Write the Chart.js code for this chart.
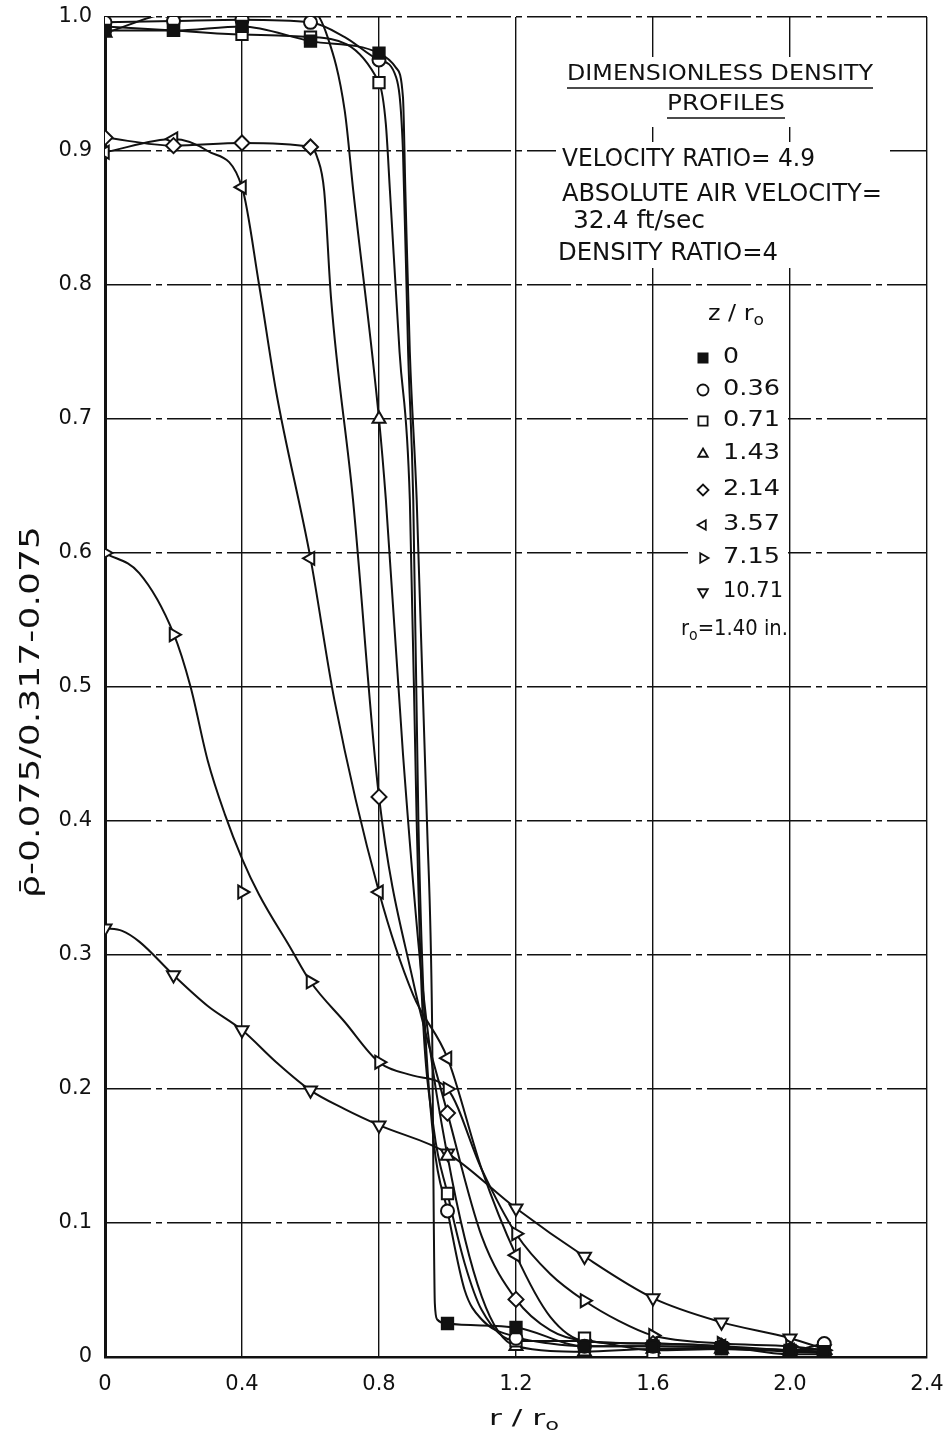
<!DOCTYPE html>
<html><head><meta charset="utf-8">
<script src="https://cdn.jsdelivr.net/npm/chart.js@4/dist/chart.umd.min.js"></script>
<style>html,body{margin:0;padding:0;background:#fff}canvas{display:block}</style>
</head><body>
<canvas id="c" width="951" height="1434"></canvas>
<script>
// ---------- DATA ----------
const xTicks = [0, 0.4, 0.8, 1.2, 1.6, 2.0, 2.4];
const xTickLabels = ['0', '0.4', '0.8', '1.2', '1.6', '2.0', '2.4'];
const yTicks = [0, 0.1, 0.2, 0.3, 0.4, 0.5, 0.6, 0.7, 0.8, 0.9, 1.0];
const yTickLabels = ['0', '0.1', '0.2', '0.3', '0.4', '0.5', '0.6', '0.7', '0.8', '0.9', '1.0'];
const seriesNames = ['0', '0.36', '0.71', '1.43', '2.14', '3.57', '7.15', '10.71'];

// measured points (markers)
const markerR = [0, 0.2, 0.4, 0.6, 0.8, 1.0, 1.2, 1.4, 1.6, 1.8, 2.0, 2.1];
const m0 = [0.990, 0.990, 0.993, 0.982, 0.973, 0.025, 0.022, 0.008, 0.008, 0.007, 0.005, 0.004];
const m1 = [0.996, 0.997, 0.998, 0.996, 0.968, 0.109, 0.014, 0.008, 0.008, 0.007, 0.005, 0.010];
const m2 = [0.993, 0.990, 0.987, 0.985, 0.951, 0.122, 0.012, 0.014, 0.003, 0.006, 0.004, 0.003];
const m3 = [0.988, 1.003, 1.004, 1.006, 0.700, 0.150, 0.008, 0.004, 0.006, 0.006, 0.005, 0.006];
const m4 = [0.910, 0.904, 0.906, 0.903, 0.418, 0.182, 0.043, 0.012, 0.010, 0.008, 0.002, 0.002];
const m5 = [0.899, 0.909, 0.873, 0.596, 0.347, 0.223, 0.076, 0.012, 0.010, 0.008, 0.005, 0.004];
const m6 = [0.600, 0.539, 0.347, 0.280, 0.220, 0.200, 0.092, 0.042, 0.016, 0.010, 0.008, 0.005];
const m7 = [0.320, 0.285, 0.244, 0.199, 0.173, 0.152, 0.111, 0.075, 0.044, 0.026, 0.014, 0.006];

// faired curves
const c0r = [0, 0.2, 0.4, 0.6, 0.8, 0.85, 0.87, 0.877, 0.89, 0.91, 0.94, 0.955, 0.96, 0.963, 0.97, 1.0, 1.2, 1.4, 1.6, 1.8, 2.0, 2.1];
const c0v = [0.990, 0.990, 0.993, 0.982, 0.973, 0.962, 0.940, 0.870, 0.750, 0.640, 0.400, 0.250, 0.100, 0.040, 0.028, 0.025, 0.022, 0.008, 0.008, 0.007, 0.005, 0.004];
const c1r = [0, 0.2, 0.4, 0.6, 0.7, 0.8, 0.85, 0.87, 0.885, 0.9, 0.915, 0.93, 0.96, 1.0, 1.05, 1.1, 1.2, 1.3, 1.4, 1.6, 1.8, 2.0, 2.1];
const c1v = [0.996, 0.997, 0.998, 0.996, 0.985, 0.968, 0.955, 0.900, 0.750, 0.640, 0.400, 0.270, 0.160, 0.109, 0.050, 0.028, 0.015, 0.010, 0.008, 0.008, 0.007, 0.005, 0.010];
const c2r = [0, 0.2, 0.4, 0.6, 0.8, 0.82, 0.832, 0.86, 0.89, 0.91, 0.925, 0.96, 1.0, 1.05, 1.1, 1.2, 1.4, 1.6, 1.8, 2.0, 2.1];
const c2v = [0.993, 0.990, 0.987, 0.985, 0.951, 0.920, 0.870, 0.750, 0.640, 0.400, 0.270, 0.170, 0.122, 0.070, 0.035, 0.012, 0.012, 0.005, 0.006, 0.004, 0.003];
const c3r = [0, 0.2, 0.4, 0.6, 0.65, 0.7, 0.725, 0.8, 0.82, 0.87, 0.93, 1.0, 1.1, 1.2, 1.4, 1.6, 1.8, 2.0, 2.1];
const c3v = [0.988, 1.003, 1.004, 1.006, 0.985, 0.930, 0.870, 0.700, 0.640, 0.450, 0.270, 0.150, 0.045, 0.008, 0.004, 0.006, 0.006, 0.005, 0.006];
const c4r = [0, 0.2, 0.4, 0.6, 0.62, 0.64, 0.66, 0.724, 0.8, 0.9, 1.0, 1.1, 1.2, 1.3, 1.4, 1.6, 1.8, 2.0, 2.1];
const c4v = [0.910, 0.904, 0.906, 0.903, 0.895, 0.870, 0.790, 0.640, 0.418, 0.280, 0.182, 0.090, 0.043, 0.020, 0.012, 0.010, 0.008, 0.002, 0.002];
const c5r = [0, 0.2, 0.3, 0.4, 0.45, 0.5, 0.6, 0.67, 0.8, 0.9, 1.0, 1.1, 1.2, 1.3, 1.4, 1.6, 1.8, 2.0, 2.1];
const c5v = [0.899, 0.909, 0.900, 0.873, 0.800, 0.720, 0.596, 0.490, 0.347, 0.270, 0.223, 0.140, 0.076, 0.030, 0.012, 0.010, 0.008, 0.005, 0.004];
const c6r = [0, 0.1, 0.2, 0.25, 0.3, 0.35, 0.4, 0.45, 0.54, 0.6, 0.7, 0.8, 0.9, 1.0, 1.1, 1.2, 1.3, 1.4, 1.5, 1.6, 1.8, 2.0, 2.1];
const c6v = [0.600, 0.585, 0.540, 0.500, 0.445, 0.405, 0.372, 0.345, 0.306, 0.280, 0.250, 0.220, 0.210, 0.200, 0.140, 0.092, 0.062, 0.042, 0.027, 0.016, 0.010, 0.008, 0.005];
const c7r = [0, 0.05, 0.1, 0.2, 0.3, 0.4, 0.5, 0.6, 0.7, 0.8, 1.0, 1.2, 1.4, 1.6, 1.8, 2.0, 2.1];
const c7v = [0.320, 0.318, 0.310, 0.285, 0.262, 0.244, 0.220, 0.199, 0.185, 0.173, 0.152, 0.111, 0.075, 0.044, 0.026, 0.014, 0.006];

// ---------- STYLE ----------
const markerVals = [m0, m1, m2, m3, m4, m5, m6, m7];
const curveR = [c0r, c1r, c2r, c3r, c4r, c5r, c6r, c7r];
const curveV = [c0v, c1v, c2v, c3v, c4v, c5v, c6v, c7v];
const mStyle = [
  {ps: 'rect', rot: 0, r: 8, fill: '#111'},
  {ps: 'circle', rot: 0, r: 6.5, fill: '#fff'},
  {ps: 'rect', rot: 0, r: 8, fill: '#fff'},
  {ps: 'triangle', rot: 0, r: 7.5, fill: '#fff'},
  {ps: 'rectRot', rot: 0, r: 7.5, fill: '#fff'},
  {ps: 'triangle', rot: 270, r: 7.5, fill: '#fff'},
  {ps: 'triangle', rot: 90, r: 7.5, fill: '#fff'},
  {ps: 'triangle', rot: 180, r: 7.5, fill: '#fff'}
];
const INK = '#111';
const FONT = '"DejaVu Sans", sans-serif';

const datasets = [];
markerVals.forEach((vals, i) => {
  datasets.push({
    label: seriesNames[i],
    data: markerR.map((r, k) => ({x: r, y: vals[k]})),
    showLine: false,
    pointStyle: mStyle[i].ps,
    pointRotation: mStyle[i].rot,
    pointRadius: mStyle[i].r,
    pointBackgroundColor: mStyle[i].fill,
    pointBorderColor: INK,
    pointBorderWidth: 2,
    order: 0
  });
});
curveR.forEach((rs, i) => {
  datasets.push({
    label: seriesNames[i] + ' curve',
    data: rs.map((r, k) => ({x: r, y: curveV[i][k]})),
    showLine: true,
    borderColor: INK,
    borderWidth: 2,
    pointRadius: 0,
    cubicInterpolationMode: 'monotone',
    fill: false,
    order: 1
  });
});

function drawMarker(ctx, st, x, y, r) {
  ctx.save();
  ctx.fillStyle = st.fill; ctx.strokeStyle = INK; ctx.lineWidth = 1.8;
  if (Chart.helpers && Chart.helpers.drawPoint) {
    Chart.helpers.drawPoint(ctx, {pointStyle: st.ps, rotation: st.rot, radius: r, borderWidth: 1.8}, x, y);
  } else {
    ctx.beginPath(); ctx.arc(x, y, r, 0, Math.PI * 2); ctx.fill(); ctx.stroke();
  }
  ctx.restore();
}

// parts: array of [text, isSub]
function drawText(ctx, parts, x, y, h, targetW, align) {
  ctx.save();
  ctx.fillStyle = INK;
  ctx.textBaseline = 'middle';
  ctx.textAlign = 'left';
  let w = 0;
  parts.forEach(p => {
    ctx.font = (p[1] ? h * 0.72 : h) + 'px ' + FONT;
    w += ctx.measureText(p[0]).width;
  });
  const sx = targetW ? targetW / w : 1;
  const tw = w * sx;
  let x0 = align === 'center' ? x - tw / 2 : (align === 'right' ? x - tw : x);
  ctx.translate(x0, y);
  ctx.scale(sx, 1);
  let cx = 0;
  parts.forEach(p => {
    ctx.font = (p[1] ? h * 0.72 : h) + 'px ' + FONT;
    ctx.fillText(p[0], cx, p[1] ? h * 0.3 : 0);
    cx += ctx.measureText(p[0]).width;
  });
  ctx.restore();
}

const annot = {
  id: 'annot',
  beforeDatasetsDraw(chart) {
    const ctx = chart.ctx;
    ctx.save();
    ctx.fillStyle = '#fff';
    ctx.fillRect(556, 57, 334, 70);
    ctx.fillRect(556, 142, 334, 126);
    ctx.fillRect(688, 296, 100, 348);
    ctx.restore();

    drawText(ctx, [['DIMENSIONLESS DENSITY']], 720, 75, 21, 306, 'center');
    drawText(ctx, [['PROFILES']], 726, 105, 21, 118, 'center');
    ctx.save();
    ctx.strokeStyle = INK; ctx.lineWidth = 1.5;
    ctx.beginPath();
    ctx.moveTo(567, 88); ctx.lineTo(873, 88);
    ctx.moveTo(667, 118); ctx.lineTo(785, 118);
    ctx.stroke();
    ctx.restore();

    drawText(ctx, [['VELOCITY RATIO= 4.9']], 562, 160, 24, 253, 'left');
    drawText(ctx, [['ABSOLUTE AIR VELOCITY=']], 562, 195, 24, 320, 'left');
    drawText(ctx, [['32.4 ft/sec']], 573, 222, 24, 132, 'left');
    drawText(ctx, [['DENSITY RATIO=4']], 558, 254, 24, 220, 'left');

    drawText(ctx, [['z / r'], ['o', true]], 736, 315, 21, 56, 'center');
    const rowY = [358, 390, 421, 454, 490, 525, 558, 592];
    seriesNames.forEach((n, i) => {
      drawMarker(ctx, mStyle[i], 703, rowY[i], mStyle[i].ps === 'rect' ? 6.5 : 5.5);
      drawText(ctx, [[n]], 723, rowY[i], 21, n.length === 1 ? 16 : (n.length === 4 ? 57 : 60), 'left');
    });
    drawText(ctx, [['r'], ['o', true], ['=1.40 in.']], 681, 630, 21, 107, 'left');
  },
  afterDraw(chart) {
    const ctx = chart.ctx;
    drawText(ctx, [['r / r'], ['o', true]], 524, 1419, 22, 70, 'center');
    ctx.save();
    ctx.translate(32, 712);
    ctx.rotate(-Math.PI / 2);
    drawText(ctx, [['\u03C1\u0304-0.075/0.317-0.075']], 0, 0, 26, 372, 'center');
    ctx.restore();
  }
};

new Chart(document.getElementById('c'), {
  type: 'line',
  data: {datasets},
  options: {
    responsive: false,
    animation: false,
    devicePixelRatio: 1,
    layout: {padding: {top: 17, right: 24, bottom: 0, left: 0}},
    plugins: {legend: {display: false}, tooltip: {enabled: false}},
    scales: {
      x: {
        type: 'linear', min: 0, max: 2.4,
        afterBuildTicks: s => { s.ticks = xTicks.map(v => ({value: v})); },
        afterFit: s => { s.height = 77; s.paddingLeft = 0; s.paddingRight = 0; },
        ticks: {
          color: INK, font: {family: FONT, size: 21}, padding: 15, maxRotation: 0,
          callback: v => { const k = xTicks.findIndex(t => Math.abs(t - v) < 1e-6); return k >= 0 ? xTickLabels[k] : ''; }
        },
        grid: {color: INK, lineWidth: 1.4, drawTicks: false},
        border: {color: INK, width: 2.5}
      },
      y: {
        type: 'linear', min: 0, max: 1.0,
        afterBuildTicks: s => { s.ticks = yTicks.map(v => ({value: v})); },
        afterFit: s => { s.width = 105; s.paddingTop = 0; s.paddingBottom = 0; },
        ticks: {
          color: INK, font: {family: FONT, size: 21}, padding: 13,
          callback: v => { const k = yTicks.findIndex(t => Math.abs(t - v) < 1e-6); return k >= 0 ? yTickLabels[k] : ''; }
        },
        grid: {color: INK, lineWidth: 1.4, drawTicks: false},
        border: {color: INK, width: 3, dash: [44, 5, 6, 5]}
      }
    }
  },
  plugins: [annot]
});
</script>
</body></html>
